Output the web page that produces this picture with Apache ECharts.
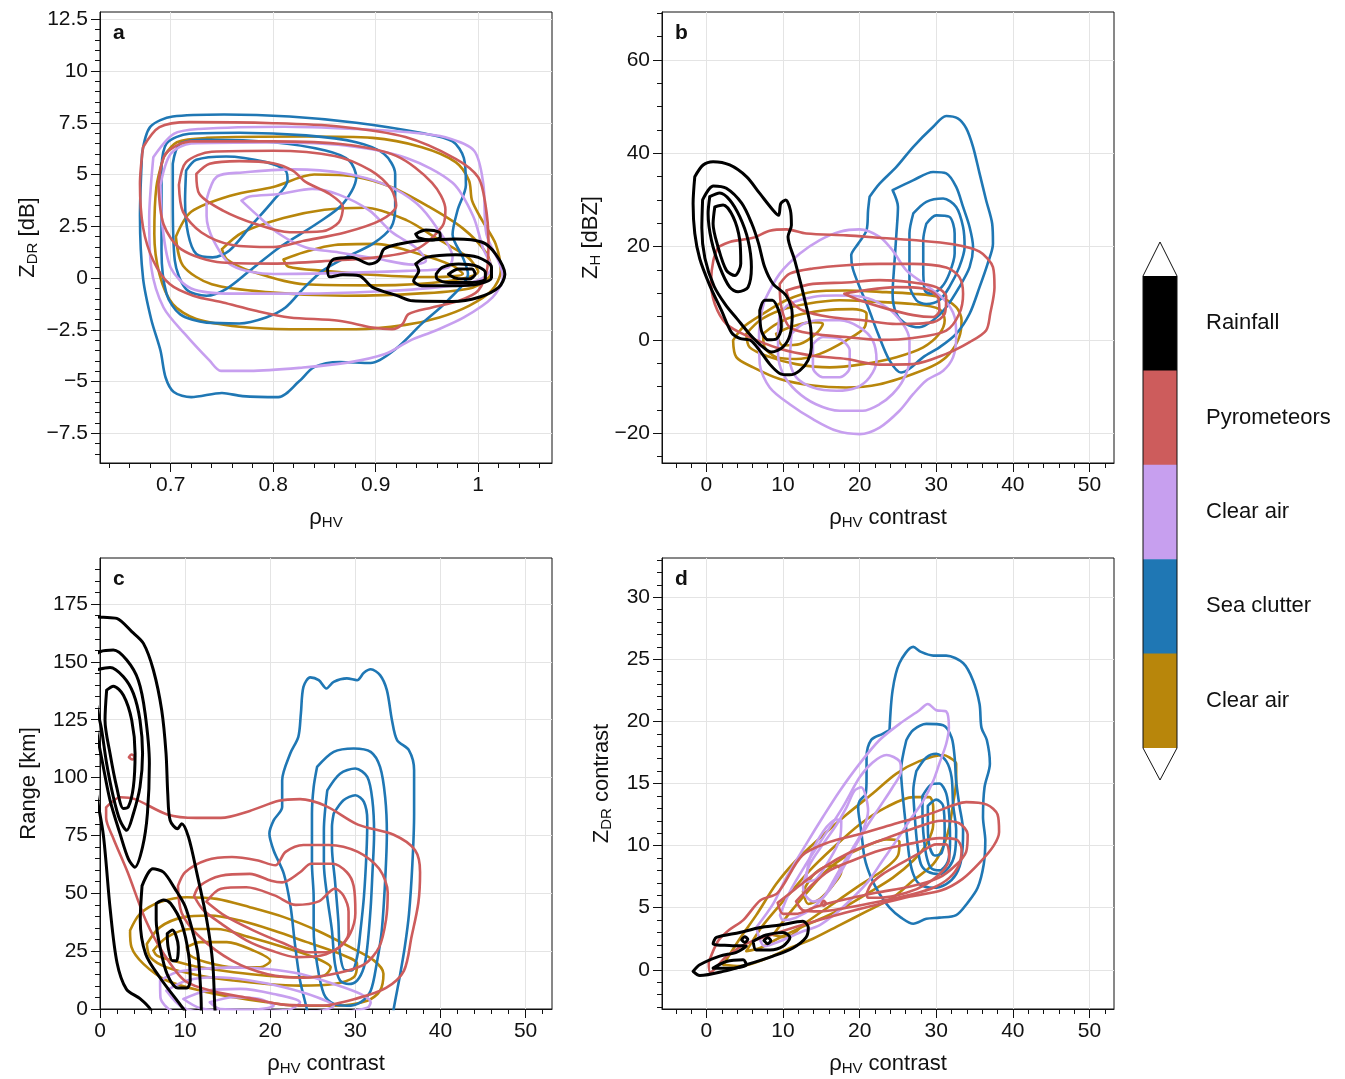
<!DOCTYPE html>
<html>
<head>
<meta charset="utf-8">
<script src="https://cdn.jsdelivr.net/npm/echarts@6.0.0/dist/echarts.min.js"></script>
<style>
  html, body { margin: 0; padding: 0; background: #ffffff; }
  #chart { width: 1345px; height: 1079px; }
</style>
</head>
<body>
<div id="chart"></div>
<script>
// Kernel-density contours of radar variables for five echo classes.
const FONT = "'Liberation Sans', Arial, Helvetica, sans-serif";

// Classes, top to bottom as listed in the colour bar
const CLASS_NAMES = ['Rainfall', 'Pyrometeors', 'Clear air', 'Sea clutter', 'Clear air'];
const CLASS_COLORS = ['#000000', '#cd5c5c', '#c79fef', '#1f77b4', '#b8860b'];

// Axis extents and tick values
const A_X_RANGE = [0.631, 1.072], A_Y_RANGE = [-8.93, 12.85];
const B_X_RANGE = [-5.8, 53.2],   B_Y_RANGE = [-26.4, 70.3];
const C_X_RANGE = [0, 53.1],      C_Y_RANGE = [0, 194.9];
const D_X_RANGE = [-5.8, 53.2],   D_Y_RANGE = [-3.16, 33.16];

const A_X_TICKS = [0.7, 0.8, 0.9, 1.0];
const A_Y_TICKS = [-7.5, -5, -2.5, 0, 2.5, 5, 7.5, 10, 12.5];
const B_X_TICKS = [0, 10, 20, 30, 40, 50];
const B_Y_TICKS = [-20, 0, 20, 40, 60];
const C_X_TICKS = [0, 10, 20, 30, 40, 50];
const C_Y_TICKS = [0, 25, 50, 75, 100, 125, 150, 175];
const D_X_TICKS = [0, 10, 20, 30, 40, 50];
const D_Y_TICKS = [0, 5, 10, 15, 20, 25, 30];

// ---- Panel a: rhoHV vs ZDR ----
const A_RAIN = [
  [[0.853,0.44],[0.859,0.92],[0.877,1.0],[0.894,0.68],[0.903,0.87],[0.908,1.40],[0.923,1.65],[0.945,1.81],[0.978,1.89],[1.004,1.73],[1.017,1.16],[1.026,0.19],[1.020,-0.45],[1.0,-0.94],[0.975,-1.13],[0.936,-1.10],[0.921,-0.85],[0.897,-0.45],[0.884,0.11],[0.868,0.16],[0.855,0.06]],
  [[0.939,2.13],[0.949,2.32],[0.962,2.21],[0.963,1.97],[0.955,1.84],[0.942,1.94]],
  [[0.939,0.68],[0.949,1.0],[0.978,1.13],[1.0,1.0],[1.013,0.52],[1.013,0.03],[1.0,-0.29],[0.978,-0.37],[0.945,-0.37],[0.937,-0.13],[0.942,0.35]],
  [[0.959,0.19],[0.965,0.52],[0.981,0.68],[0.997,0.6],[1.007,0.27],[1.007,-0.05],[0.994,-0.21],[0.971,-0.21],[0.960,-0.05]],
  [[0.971,0.19],[0.981,0.44],[0.994,0.44],[0.997,0.19],[0.991,-0.05],[0.978,0.0]]
];
const A_PYRO = [
  [[0.673,6.32],[0.689,7.29],[0.718,7.53],[0.800,7.48],[0.864,7.32],[0.929,6.81],[0.978,5.76],[1.0,4.87],[1.007,3.58],[1.010,1.81],[1.009,0.52],[1.0,-0.61],[0.981,-1.10],[0.955,-1.42],[0.932,-1.74],[0.926,-2.23],[0.916,-2.47],[0.897,-2.39],[0.864,-2.06],[0.816,-1.90],[0.783,-1.58],[0.751,-1.18],[0.722,-0.85],[0.699,-0.29],[0.683,0.84],[0.673,2.45],[0.670,4.55]],
  [[0.688,4.5],[0.695,6.0],[0.72,6.6],[0.80,6.6],[0.87,6.45],[0.92,5.9],[0.955,4.6],[0.968,3.3],[0.965,2.5],[0.94,1.4],[0.90,1.0],[0.86,0.85],[0.80,0.7],[0.75,0.75],[0.71,1.4],[0.693,2.6]],
  [[0.708,4.5],[0.715,5.6],[0.74,6.1],[0.80,6.15],[0.86,5.9],[0.895,5.2],[0.915,4.3],[0.92,3.5],[0.905,2.8],[0.87,2.2],[0.83,1.8],[0.80,1.5],[0.76,1.6],[0.73,2.2],[0.712,3.2]],
  [[0.725,5.03],[0.738,5.52],[0.767,5.65],[0.800,5.55],[0.819,5.19],[0.832,4.63],[0.855,4.06],[0.868,3.42],[0.864,2.69],[0.848,2.26],[0.816,2.21],[0.783,2.61],[0.751,3.26],[0.728,4.06]]
];
const A_CLEAR_P = [
  [[0.683,5.83],[0.703,6.96],[0.728,7.2],[0.811,7.31],[0.881,7.2],[0.933,7.04],[0.968,6.8],[0.996,6.15],[1.005,4.54],[1.008,2.13],[1.021,0.68],[1.024,0.03],[1.014,-0.93],[0.986,-1.9],[0.958,-2.54],[0.933,-3.03],[0.909,-3.67],[0.874,-4.07],[0.829,-4.32],[0.777,-4.48],[0.749,-4.48],[0.738,-3.99],[0.714,-2.71],[0.693,-1.42],[0.681,0.52],[0.679,2.93],[0.681,4.7]],
  [[0.690,4.5],[0.700,6.0],[0.72,6.5],[0.80,6.55],[0.87,6.4],[0.93,5.8],[0.975,4.6],[0.995,3.0],[1.005,1.4],[1.013,0.5],[1.0,-0.1],[0.96,-0.45],[0.90,-0.65],[0.83,-0.75],[0.76,-0.75],[0.72,-0.5],[0.70,0.5],[0.692,2.5]],
  [[0.735,3.8],[0.745,4.9],[0.77,5.1],[0.82,5.25],[0.87,5.05],[0.91,4.5],[0.94,3.6],[0.96,2.4],[0.975,1.0],[0.97,0.5],[0.93,0.35],[0.87,0.25],[0.80,0.2],[0.76,0.6],[0.742,1.8],[0.735,3.0]],
  [[0.769,3.74],[0.777,3.94],[0.806,4.06],[0.838,4.31],[0.864,4.03],[0.894,3.26],[0.916,2.21],[0.939,1.48],[0.949,0.84],[0.936,0.65],[0.903,0.92],[0.864,1.24],[0.832,1.48],[0.806,2.13],[0.783,3.1]]
];
const A_SEA = [
  [[0.672,6.0],[0.680,7.3],[0.702,7.8],[0.752,7.9],[0.816,7.8],[0.881,7.5],[0.945,7.0],[0.975,6.6],[0.986,5.8],[0.988,4.5],[0.980,3.3],[0.975,2.1],[0.985,1.0],[0.990,0.2],[0.970,-1.1],[0.945,-2.2],[0.920,-3.4],[0.895,-4.1],[0.865,-4.05],[0.840,-4.3],[0.825,-5.0],[0.805,-5.75],[0.77,-5.7],[0.75,-5.55],[0.72,-5.75],[0.703,-5.5],[0.695,-4.8],[0.690,-3.5],[0.681,-2.0],[0.673,0.0],[0.670,3.0]],
  [[0.691,5.35],[0.696,6.5],[0.718,6.97],[0.767,7.02],[0.832,6.89],[0.881,6.56],[0.908,6.0],[0.919,5.03],[0.919,3.42],[0.915,2.45],[0.897,1.65],[0.871,1.0],[0.848,0.35],[0.829,-0.53],[0.812,-1.42],[0.793,-1.9],[0.767,-2.19],[0.735,-2.15],[0.709,-1.74],[0.696,-0.77],[0.691,1.32]],
  [[0.702,5.52],[0.709,6.48],[0.735,6.68],[0.800,6.56],[0.851,6.16],[0.874,5.68],[0.881,4.87],[0.868,3.58],[0.842,2.61],[0.806,1.48],[0.777,0.35],[0.754,-0.53],[0.735,-0.85],[0.715,-0.53],[0.704,0.84],[0.702,3.74]],
  [[0.715,5.19],[0.725,5.71],[0.754,5.87],[0.793,5.6],[0.812,5.19],[0.814,4.71],[0.800,3.74],[0.777,2.45],[0.757,1.32],[0.741,1.0],[0.725,1.16],[0.717,2.13],[0.714,3.74]]
];
const A_CLEAR_G = [
  [[0.693,5.84],[0.706,6.56],[0.735,6.77],[0.832,6.84],[0.897,6.77],[0.945,6.32],[0.978,5.6],[0.991,4.71],[0.994,3.74],[1.004,2.77],[1.017,1.65],[1.022,0.35],[1.013,-0.61],[0.991,-1.34],[0.962,-1.90],[0.929,-2.26],[0.881,-2.47],[0.816,-2.47],[0.767,-2.35],[0.725,-1.98],[0.702,-1.26],[0.689,0.19],[0.684,2.13],[0.686,4.39]],
  [[0.705,2.0],[0.72,3.2],[0.76,4.0],[0.80,4.4],[0.84,5.0],[0.88,4.9],[0.915,4.4],[0.95,3.5],[0.985,2.4],[1.008,1.2],[1.013,0.3],[0.995,-0.45],[0.94,-0.75],[0.87,-0.85],[0.80,-0.7],[0.74,-0.3],[0.712,0.6]],
  [[0.75,1.4],[0.77,2.2],[0.81,2.9],[0.85,3.3],[0.89,3.4],[0.93,2.8],[0.96,1.9],[0.99,1.0],[1.0,0.3],[0.97,-0.15],[0.90,-0.35],[0.83,-0.3],[0.78,0.3],[0.755,0.9]],
  [[0.81,0.9],[0.83,1.25],[0.86,1.6],[0.90,1.65],[0.94,1.2],[0.975,0.6],[0.985,0.2],[0.95,0.05],[0.90,0.15],[0.85,0.35],[0.815,0.55]]
];

// ---- Panel b: rhoHV contrast vs ZH ----
const B_RAIN = [
  [[-1.52,35.0],[-0.43,37.5],[0.87,38.2],[3.04,37.5],[5.22,35.0],[6.96,31.4],[8.70,27.8],[9.43,26.7],[9.70,29.2],[10.35,30.0],[10.96,27.8],[11.09,24.6],[10.65,22.1],[11.52,17.1],[12.26,12.4],[12.96,7.7],[13.6,2.7],[13.7,-1.6],[13.26,-4.4],[12.17,-6.6],[10.87,-7.5],[9.57,-7.2],[8.26,-5.2],[6.96,-2.3],[5.74,-0.1],[4.35,0.3],[3.26,1.6],[1.96,6.3],[0.43,11.7],[-0.87,17.4],[-1.52,22.8],[-1.74,29.2]],
  [[-0.5,30.0],[0.9,33.0],[2.6,32.5],[4.6,29.3],[5.9,25.0],[6.8,20.7],[7.6,15.6],[8.7,12.0],[10.4,9.5],[11.2,5.5],[10.9,1.0],[10.0,-1.5],[8.5,-2.6],[7.0,-1.0],[5.5,1.5],[4.0,4.5],[2.5,7.5],[1.0,11.5],[-0.2,17.5],[-0.6,24.0]],
  [[0.43,30.7],[1.74,31.5],[3.04,30.0],[4.35,26.4],[5.43,21.4],[5.87,15.6],[5.43,11.3],[4.13,10.3],[3.04,11.3],[1.74,15.6],[0.65,21.4],[0.22,27.1]],
  [[1.09,28.5],[2.17,28.9],[3.48,26.4],[4.35,21.4],[4.48,16.3],[3.70,13.8],[2.61,14.9],[1.52,19.9],[0.87,24.9]],
  [[6.96,6.3],[7.61,8.5],[8.61,8.5],[9.57,5.6],[9.78,2.7],[9.13,0.2],[8.04,0.0],[7.17,2.0]]
];
const B_PYRO = [
  [[1.52,19.9],[3.04,21.0],[6.09,21.9],[8.26,23.4],[10.43,23.7],[13.04,22.8],[18.26,22.4],[22.6,21.9],[26.96,21.4],[32.2,20.5],[35.65,18.9],[37.4,15.6],[37.6,11.3],[37.04,5.6],[36.5,2.0],[34.35,-0.5],[31.3,-3.0],[26.96,-5.2],[22.6,-5.3],[18.26,-4.1],[13.9,-3.4],[9.57,-1.9],[5.22,0.9],[2.61,3.4],[1.09,7.7],[0.6,12.5],[0.9,17.0]],
  [[9.57,12.0],[10.87,14.2],[13.9,15.3],[18.26,16.0],[22.6,16.3],[26.96,16.3],[31.3,15.5],[33.0,13.5],[33.5,9.9],[33.0,5.6],[31.3,2.0],[26.96,0.4],[22.6,0.0],[18.26,0.6],[13.9,1.3],[10.87,2.7],[9.78,7.0]],
  [[10.43,10.6],[13.9,12.0],[18.26,12.3],[22.6,12.8],[26.96,12.3],[30.0,11.3],[31.3,9.2],[31.1,5.6],[29.6,3.8],[24.8,3.4],[20.4,4.2],[16.1,4.9],[12.6,6.3],[10.9,8.5]],
  [[18.0,9.9],[20.4,10.6],[24.8,11.3],[28.3,11.0],[30.2,9.2],[30.4,6.3],[29.6,4.9],[27.0,5.3],[23.5,6.7],[20.0,8.5]]
];
const B_CLEAR_P = [
  [[7.6,8.5],[9.57,14.2],[12.2,18.5],[14.8,21.4],[17.4,23.2],[20.0,23.7],[22.6,22.1],[24.3,19.2],[26.1,14.9],[28.7,11.7],[31.1,8.5],[32.4,4.9],[32.6,0.6],[32.2,-3.7],[30.9,-6.6],[28.7,-8.7],[27.0,-11.6],[25.2,-15.2],[22.6,-18.8],[20.0,-20.2],[17.0,-19.5],[13.9,-17.0],[10.87,-13.8],[8.26,-10.2],[6.96,-5.2],[6.87,1.3],[7.17,5.6]],
  [[9.57,5.6],[10.87,7.7],[13.9,9.2],[16.96,9.5],[20.4,9.2],[23.5,7.0],[25.65,3.4],[26.5,-0.1],[26.5,-4.4],[25.65,-8.7],[24.3,-11.6],[22.6,-13.8],[20.4,-15.2],[17.4,-15.2],[14.3,-13.8],[11.7,-10.9],[10.0,-7.3],[9.35,-3.0],[9.35,1.3]],
  [[11.1,1.3],[12.6,3.4],[14.8,4.2],[17.4,4.2],[20.0,2.7],[21.7,-0.1],[22.2,-4.4],[21.3,-8.0],[19.6,-10.2],[17.0,-10.9],[13.9,-10.2],[11.7,-8.0],[10.9,-4.4]],
  [[13.9,-0.9],[15.2,0.6],[17.4,0.2],[18.7,-2.3],[18.7,-5.9],[17.4,-8.0],[15.2,-8.0],[13.9,-5.9]]
];
const B_SEA = [
  [[21.3,30.7],[22.6,33.5],[24.8,37.1],[27.0,41.4],[29.6,45.7],[31.3,48.0],[32.8,47.5],[33.9,45.4],[34.8,41.4],[35.65,35.7],[36.5,30.0],[37.3,24.9],[37.4,20.6],[36.7,16.3],[35.65,11.3],[34.35,5.6],[32.6,1.3],[30.4,-1.6],[28.3,-3.7],[26.5,-6.2],[25.4,-7.0],[23.9,-4.4],[22.4,1.3],[21.1,7.0],[20.0,11.3],[19.1,15.3],[18.9,18.1],[19.8,20.6],[20.9,23.5],[21.1,27.8]],
  [[24.3,32.1],[26.96,34.2],[29.6,36.0],[31.3,35.7],[32.6,32.8],[33.5,28.5],[34.35,24.2],[34.8,19.9],[34.35,15.6],[33.0,11.3],[31.3,7.0],[29.6,4.2],[27.8,2.7],[26.1,3.4],[24.8,5.6],[24.3,9.9],[24.5,15.6],[24.8,22.8],[25.0,28.5]],
  [[27.0,27.1],[28.7,29.6],[30.9,30.3],[32.6,28.5],[33.5,24.2],[33.7,19.9],[33.0,15.6],[31.7,11.3],[30.4,8.5],[28.7,7.7],[27.4,8.5],[26.5,12.0],[26.5,17.8],[26.5,22.8]],
  [[28.7,24.9],[30.0,26.7],[31.7,26.4],[32.4,22.8],[32.4,18.5],[31.7,14.2],[30.7,11.3],[29.3,9.9],[28.5,10.6],[28.3,15.6],[28.3,21.4]]
];
const B_CLEAR_G = [
  [[3.48,-0.1],[4.78,2.7],[7.4,5.6],[10.4,8.5],[13.9,10.3],[18.26,10.6],[22.6,10.3],[26.96,9.9],[30.4,9.2],[32.6,7.0],[33.3,4.2],[33.0,0.6],[31.7,-3.0],[30.0,-5.2],[26.96,-7.3],[22.6,-9.5],[18.26,-10.2],[13.9,-9.8],[9.57,-8.4],[6.1,-5.9],[3.9,-3.7]],
  [[5.2,1.3],[7.0,4.2],[9.57,6.3],[13.0,7.7],[17.4,8.5],[21.7,8.2],[26.96,7.7],[30.4,6.6],[31.1,4.2],[30.4,1.3],[28.3,-1.6],[24.8,-3.7],[20.4,-5.2],[16.1,-5.9],[11.7,-5.2],[8.3,-3.7],[5.65,-1.6]],
  [[7.4,1.3],[9.1,3.4],[11.7,5.2],[15.2,6.3],[19.1,6.6],[20.9,5.6],[20.65,2.7],[18.26,-0.1],[14.8,-3.0],[11.7,-4.1],[9.1,-3.7],[7.6,-1.6]],
  [[9.1,1.3],[10.87,2.7],[13.9,3.8],[15.2,3.4],[14.3,1.3],[12.2,-0.9],[10.0,-1.2]]
];

// ---- Panel c: rhoHV contrast vs range ----
const C_RAIN = [
  [[-1.0,169.6],[0.39,169.3],[1.96,168.8],[3.73,163.1],[5.1,158.0],[6.27,146.5],[7.25,129.1],[7.76,110.4],[7.96,93.1],[8.24,81.5],[9.1,77.9],[9.6,80.1],[10.4,74.3],[11.4,58.4],[12.55,38.2],[13.25,19.5],[13.5,0],[13.7,-6],[10.0,-12],[6.5,-6],[5.9,0],[4.7,4.5],[3.1,8.6],[2.0,20.0],[1.2,43.0],[0.4,75.0],[-0.5,95],[-1.5,130]],
  [[-0.8,152.2],[0.0,154.4],[1.57,155.1],[3.14,150.8],[4.5,142.1],[5.3,127.7],[5.8,106.1],[5.57,84.4],[5.0,70.0],[4.1,61.3],[3.33,64.9],[2.35,75.8],[1.18,90.2],[0.39,104.6],[-0.4,120.5],[-1.0,140]],
  [[-0.5,146.5],[1.18,147.6],[2.75,143.6],[3.92,136.4],[4.7,124.8],[5.0,110.4],[4.7,96.0],[3.92,84.4],[3.14,77.2],[2.35,81.5],[1.57,91.6],[0.78,106.1],[0.2,120.5],[-0.5,135]],
  [[0.78,137.8],[1.57,139.5],[2.75,135.6],[3.73,124.8],[4.12,110.4],[3.92,96.0],[3.33,87.3],[2.75,86.6],[1.96,95.9],[1.18,110.4],[0.59,124.8]],
  [[4.94,53.2],[6.2,60.6],[7.47,59.1],[8.8,52.0],[10.0,44.4],[11.0,32.0],[11.5,23.8],[11.8,10.0],[11.9,0.0],[11.5,-4],[10.3,-2],[9.16,3.2],[7.05,13.5],[5.36,23.8],[4.73,38.5]],
  [[6.6,45.6],[7.47,47.1],[8.3,45.6],[9.6,36.8],[10.4,23.8],[10.6,12.1],[10.2,9.1],[9.16,9.1],[7.9,15.0],[7.05,26.8],[6.6,38.5]],
  [[7.9,32.6],[8.5,34.1],[9.2,26.8],[9.0,20.9],[8.5,20.9],[8.0,26.8]]
];
const C_PYRO = [
  [[0.72,87.1],[2.4,91.5],[4.1,90.7],[7.9,84.1],[11.3,82.6],[14.2,82.6],[17.6,85.6],[21.0,90.0],[23.5,90.7],[26.5,87.8],[30.3,79.7],[34.5,75.3],[37.0,68.7],[37.6,59.1],[37.4,45.9],[36.6,31.2],[35.7,16.5],[33.6,9.1],[30.3,4.7],[26.0,1.5],[21.8,1.8],[17.6,4.7],[13.4,7.6],[10.0,12.1],[7.5,23.8],[5.36,38.5],[3.25,59.1],[1.56,73.8],[0.72,82.6]],
  [[9.16,53.2],[10.0,59.1],[12.5,64.3],[15.5,65.7],[18.4,64.3],[20.6,62.1],[21.8,67.9],[23.9,70.9],[26.9,70.9],[30.3,67.9],[32.8,60.6],[33.8,50.3],[33.6,38.5],[32.8,26.8],[31.1,19.4],[28.1,15.7],[23.9,13.5],[19.7,15.0],[15.5,20.9],[11.7,31.2],[9.6,41.5]],
  [[11.05,48.8],[11.7,53.2],[14.2,57.6],[17.6,58.4],[20.1,55.4],[21.4,54.7],[23.5,59.1],[24.8,62.8],[27.3,62.8],[29.0,59.1],[29.8,53.2],[30.0,41.5],[29.4,32.6],[28.1,26.8],[26.0,23.1],[23.1,22.4],[20.1,25.3],[17.2,29.7],[14.2,37.0],[12.1,42.9]],
  [[12.5,46.4],[14.2,52.0],[17.2,52.6],[20.5,49.1],[23.0,45.0],[25.7,46.5],[27.6,52.0],[28.6,49.0],[29.2,42.0],[29.2,33.0],[28.4,27.5],[26.8,24.5],[24.5,24.5],[21.5,28.5],[18.0,34.0],[14.8,40.0]],
  [[3.4,108.8],[3.7,110.0],[4.1,109.0],[3.8,107.8]]
];
const C_CLEAR_P = [
  [[7.06,12.3],[9.0,15.9],[11.8,17.3],[15.7,18.0],[19.6,17.3],[23.5,15.2],[27.45,10.8],[30.6,6.5],[31.8,2.9],[31.4,0.5],[27.45,-2],[20.0,-4],[12.0,-4],[8.5,-1],[7.1,5.0]],
  [[7.8,7.9],[10.2,12.3],[13.7,13.7],[17.6,12.3],[21.6,9.4],[25.5,5.1],[27.45,1.4],[25.5,-1],[19.6,-1.5],[13.7,-1.5],[9.8,0.5]],
  [[9.8,4.3],[12.5,7.9],[16.5,8.7],[20.4,6.5],[23.5,2.9],[22.0,-0.5],[15.7,-1.0],[11.8,0.3]],
  [[12.9,2.9],[15.7,5.1],[18.8,4.3],[20.4,1.4],[17.6,-0.3],[14.1,0.0]]
];
const C_SEA = [
  [[24.6,-6],[24.3,0],[23.5,12.3],[22.9,28.1],[22.4,44.0],[21.6,58.4],[20.4,68.5],[19.9,75.8],[20.4,81.5],[21.4,87.3],[21.4,98.8],[22.35,110.4],[23.3,117.6],[23.6,127.7],[23.9,139.2],[24.7,143.3],[25.7,142.1],[26.6,138.5],[27.45,141.4],[29.0,142.9],[30.2,142.1],[31.0,145.3],[31.8,146.8],[32.9,144.3],[33.7,137.8],[34.3,124.8],[34.9,116.2],[36.3,111.8],[36.9,103.2],[36.9,84.4],[36.7,62.8],[36.3,41.1],[35.8,26.7],[35.2,13.7],[34.5,0],[34.3,-6],[29.5,-12]],
  [[25.5,104.6],[27.45,111.1],[29.8,112.6],[31.8,111.1],[32.9,104.6],[33.5,91.6],[33.7,75.8],[33.5,55.6],[33.1,33.9],[32.5,19.5],[31.8,7.9],[30.6,2.9],[29.0,1.4],[27.45,2.2],[26.3,6.5],[25.5,19.5],[25.1,33.9],[25.1,48.3],[24.9,62.8],[24.9,84.4],[25.1,95.9]],
  [[26.7,94.5],[28.2,101.7],[30.0,103.9],[31.4,100.3],[32.0,90.2],[32.2,75.8],[32.0,58.4],[31.8,44.0],[31.4,26.7],[31.0,18.0],[30.2,12.3],[29.2,10.8],[28.2,12.3],[27.6,19.5],[27.25,33.9],[26.7,48.3],[26.3,62.8],[26.3,77.2]],
  [[27.45,84.4],[28.6,90.2],[30.0,92.4],[31.0,89.5],[31.4,81.5],[31.3,67.1],[31.0,48.3],[30.6,33.9],[30.2,22.4],[29.6,16.7],[28.8,16.7],[28.2,23.8],[28.0,38.2],[27.6,55.6],[27.25,70.0],[27.25,78.7]]
];
const C_CLEAR_G = [
  [[3.53,33.9],[4.7,41.1],[7.06,46.2],[10.2,48.3],[13.7,47.6],[17.6,44.0],[21.6,39.7],[25.5,33.9],[29.4,26.7],[32.2,20.9],[33.3,15.2],[32.9,7.9],[31.4,3.6],[27.45,1.4],[23.5,1.4],[19.6,2.9],[15.7,5.1],[11.8,7.9],[7.84,12.3],[5.1,19.5],[3.7,26.7]],
  [[5.5,28.1],[7.06,35.4],[9.8,39.7],[12.9,40.4],[16.5,38.2],[20.4,33.9],[24.3,28.9],[28.2,23.8],[30.2,19.5],[29.8,13.7],[27.45,10.8],[23.5,10.1],[19.6,10.8],[15.7,12.3],[11.8,14.4],[7.84,18.0],[5.9,22.4]],
  [[6.27,25.3],[7.84,31.0],[10.6,34.6],[13.7,34.6],[17.6,31.0],[21.6,26.7],[25.1,22.4],[27.1,18.0],[26.3,14.4],[23.5,13.7],[19.6,14.4],[15.7,15.9],[11.8,18.0],[8.6,20.9],[6.7,23.1]],
  [[10.2,26.7],[11.8,28.9],[14.9,28.9],[18.0,25.3],[20.0,20.9],[18.8,18.0],[15.7,18.0],[12.5,20.2],[10.6,23.1]]
];

// ---- Panel d: rhoHV contrast vs ZDR contrast ----
const D_RAIN = [
  [[-1.74,-0.13],[-0.87,0.4],[1.74,1.1],[3.9,1.4],[5.2,1.9],[3.0,1.95],[0.87,2.1],[1.3,2.6],[4.35,3.0],[7.0,3.4],[9.6,3.6],[12.6,3.9],[13.3,3.4],[13.0,2.6],[11.3,1.75],[8.7,1.1],[5.2,0.4],[2.2,-0.13],[-0.87,-0.46]],
  [[6.1,2.3],[7.8,2.8],[10.0,3.0],[10.9,2.6],[10.0,1.9],[8.3,1.6],[6.5,1.6]],
  [[0.87,0.13],[2.6,0.67],[4.8,0.8],[5.2,0.4],[3.5,0.13]],
  [[7.5,2.35],[8.0,2.6],[8.4,2.35],[8.0,2.1]],
  [[4.6,2.4],[5.0,2.65],[5.4,2.45],[5.0,2.2]]
];
const D_PYRO = [
  [[0.3,0.6],[1.5,2.3],[2.95,3.2],[4.8,4.0],[7.05,5.6],[9.3,6.2],[12.5,9.2],[16.1,10.3],[19.8,10.9],[24.3,11.7],[28.9,12.5],[32.5,13.3],[33.9,13.5],[36.6,13.3],[38.0,12.5],[38.2,11.1],[37.5,10.0],[35.7,8.65],[33.4,7.3],[30.7,6.4],[26.6,5.9],[22.0,5.2],[17.5,4.5],[13.0,3.7],[8.9,2.9],[5.2,2.1],[2.5,1.0],[0.5,-0.2]],
  [[9.3,5.4],[11.6,6.5],[15.2,8.2],[18.9,9.5],[23.5,10.6],[27.1,11.4],[30.7,12.0],[33.0,11.8],[34.1,10.9],[33.9,9.5],[32.5,8.4],[30.3,7.4],[26.6,6.7],[22.1,6.2],[17.6,5.6],[14.4,5.1],[11.6,4.5],[10.0,4.5]],
  [[11.7,5.5],[13.9,6.9],[16.1,8.0],[19.1,8.8],[22.6,9.6],[27.0,10.2],[30.4,10.6],[32.6,10.5],[33.3,9.7],[33.0,8.5],[31.7,7.4],[29.6,6.6],[27.0,6.1],[22.6,5.5],[18.3,5.0],[14.8,4.7],[12.6,4.8]],
  [[20.9,6.1],[21.5,6.9],[23.0,7.7],[25.2,8.5],[27.8,9.4],[30.0,10.1],[31.3,10.1],[31.7,9.0],[30.9,8.0],[28.7,6.9],[26.1,6.2],[22.6,5.8],[21.1,5.8]],
  [[15.0,5.3],[15.3,5.55],[15.6,5.35],[15.3,5.15]]
];
const D_CLEAR_P = [
  [[6.5,3.4],[8.7,5.3],[10.4,7.4],[13.0,10.1],[15.2,12.3],[17.4,14.4],[20.0,16.6],[22.6,18.5],[25.2,19.8],[27.8,20.9],[28.9,21.4],[30.0,20.9],[31.3,20.8],[31.65,19.5],[31.3,18.2],[30.4,16.6],[29.6,15.2],[28.3,13.6],[26.5,12.0],[24.8,10.4],[23.0,8.8],[21.1,7.1],[19.1,5.8],[17.0,4.6],[14.8,3.6],[12.2,3.0],[9.6,2.3],[7.6,1.9]],
  [[9.6,4.4],[10.9,6.3],[13.0,8.5],[15.2,10.6],[17.8,13.1],[20.0,15.5],[21.7,16.7],[23.5,17.3],[25.2,16.8],[25.4,16.0],[24.3,14.7],[22.6,13.1],[20.9,11.5],[19.1,9.6],[17.4,7.7],[15.65,6.1],[13.9,5.0],[11.7,4.2],[10.0,4.0]],
  [[12.6,6.9],[13.5,8.5],[15.2,10.1],[17.0,11.7],[18.3,13.1],[19.3,14.4],[20.2,14.7],[21.1,12.8],[20.4,11.2],[19.1,9.8],[17.8,8.5],[16.5,7.1],[15.2,5.8],[13.9,5.5],[12.8,6.1]],
  [[13.0,7.1],[13.5,9.0],[15.2,11.1],[17.0,12.1],[17.6,12.0],[17.4,10.5],[16.1,8.9],[14.3,7.3]]
];
const D_SEA = [
  [[23.9,19.3],[24.3,22.5],[25.2,24.7],[27.0,26.0],[28.0,25.6],[29.6,25.3],[31.3,25.3],[33.5,24.7],[34.8,23.3],[35.65,21.4],[35.9,19.5],[36.6,18.5],[37.0,16.6],[36.3,14.7],[36.1,12.3],[36.4,10.4],[36.2,8.5],[35.4,6.6],[34.1,5.4],[32.6,4.4],[30.4,4.2],[28.7,4.1],[27.0,3.7],[25.4,4.2],[23.9,5.0],[22.6,6.1],[21.5,7.4],[20.65,9.0],[20.2,11.2],[19.8,13.1],[20.0,13.6],[20.8,14.2],[20.9,15.5],[20.9,17.1],[21.5,18.5],[23.0,19.0]],
  [[26.1,18.5],[27.0,19.3],[28.7,19.8],[30.9,19.7],[32.0,18.7],[32.4,17.1],[32.6,15.2],[33.0,13.3],[33.5,11.2],[33.3,9.0],[32.6,7.7],[31.3,6.9],[29.6,6.6],[27.8,6.9],[27.0,7.7],[26.5,9.0],[26.1,11.2],[25.65,13.9],[25.4,16.0]],
  [[27.4,16.0],[28.7,17.1],[30.0,17.4],[31.3,16.8],[32.0,15.5],[32.2,13.3],[32.6,11.2],[32.4,9.3],[31.7,8.3],[30.4,7.7],[28.9,7.9],[28.0,8.5],[27.5,10.2],[27.2,12.3],[27.0,14.4]],
  [[28.2,14.0],[29.3,14.9],[30.4,15.0],[31.3,14.2],[31.7,12.4],[31.8,10.3],[31.5,8.7],[30.4,8.0],[29.3,8.2],[28.7,9.2],[28.3,11.1],[28.2,12.7]],
  [[28.9,13.2],[30.0,13.7],[30.9,13.2],[31.1,11.1],[30.7,9.4],[29.8,9.2],[29.1,10.0],[28.9,11.6]]
];
const D_CLEAR_G = [
  [[2.2,0.4],[4.35,2.5],[6.5,4.4],[9.1,6.9],[11.7,8.8],[14.8,10.6],[18.3,12.5],[21.7,14.2],[24.8,15.8],[27.8,16.8],[30.9,17.3],[31.7,17.1],[32.6,16.6],[32.6,15.2],[32.2,13.4],[31.7,11.5],[30.9,9.9],[29.6,8.5],[27.0,7.2],[24.3,5.8],[20.9,4.7],[17.4,3.6],[13.9,2.5],[10.9,1.75],[7.8,0.9],[4.35,0.3]],
  [[5.2,1.5],[7.4,3.6],[10.4,5.8],[13.5,8.0],[16.5,9.8],[20.0,11.7],[23.5,13.1],[27.0,13.9],[29.1,13.9],[29.6,13.1],[29.6,11.7],[28.7,10.1],[27.0,8.8],[24.3,7.4],[20.9,6.1],[17.0,4.7],[13.0,3.6],[9.6,2.6],[7.0,1.75]],
  [[8.7,2.8],[10.9,4.6],[13.5,6.5],[15.7,8.0],[18.3,9.2],[21.0,10.0],[23.5,10.5],[25.2,10.3],[25.0,9.2],[23.0,8.0],[20.0,6.8],[16.5,5.3],[13.0,3.8],[10.4,2.6]],
  [[12.6,6.3],[13.9,7.6],[15.5,8.3],[17.0,8.4],[17.6,7.9],[16.5,6.8],[14.8,5.7],[13.3,5.3]]
];

// Contour sets per panel, in class order (same as CLASS_NAMES)
const PANEL_SETS = [
  [A_RAIN, A_PYRO, A_CLEAR_P, A_SEA, A_CLEAR_G],
  [B_RAIN, B_PYRO, B_CLEAR_P, B_SEA, B_CLEAR_G],
  [C_RAIN, C_PYRO, C_CLEAR_P, C_SEA, C_CLEAR_G],
  [D_RAIN, D_PYRO, D_CLEAR_P, D_SEA, D_CLEAR_G]
];
const PANEL_LETTERS = ['a', 'b', 'c', 'd'];

// ---------------- layout ----------------
const GRID_BOXES = [
  { left: 100, top: 12,  width: 452, height: 451 },
  { left: 662, top: 12,  width: 452, height: 451 },
  { left: 100, top: 558, width: 452, height: 451 },
  { left: 662, top: 558, width: 452, height: 451 }
];

const NAME_RICH = {
  s: { fontSize: 15, lineHeight: 15, verticalAlign: 'bottom', fontFamily: FONT, color: '#111' }
};

function fmtTick(v) {
  return String(+(+v).toFixed(4)).replace('-', '\u2212');
}

function valueAxis(o) {
  const ticks = o.ticks;
  const isTick = v => ticks.some(t => Math.abs(t - v) < o.step * 1e-3);
  return {
    type: 'value',
    gridIndex: o.grid,
    min: o.range[0],
    max: o.range[1],
    minInterval: o.step,
    maxInterval: o.step,
    splitNumber: 5,
    name: o.name,
    nameLocation: 'middle',
    nameGap: o.nameGap,
    nameRotate: o.isY ? 90 : 0,
    nameTextStyle: {
      fontSize: 22, color: '#111', fontFamily: FONT, lineHeight: 25, rich: NAME_RICH
    },
    axisLine: { show: true, onZero: false, lineStyle: { color: '#111', width: 1 } },
    axisTick: { show: true, inside: false, length: 9, customValues: ticks,
                lineStyle: { color: '#111', width: 1 } },
    minorTick: { show: true, splitNumber: o.minor, length: 5,
                 lineStyle: { color: '#111', width: 1 } },
    axisLabel: {
      show: true, customValues: ticks, margin: o.isY ? 12 : 12,
      fontSize: 21, color: '#111', fontFamily: FONT,
      formatter: v => (isTick(v) ? fmtTick(v) : '')
    },
    splitLine: { show: true, lineStyle: { color: '#e4e4e4', width: 1 } },
    minorSplitLine: { show: false }
  };
}

const xAxes = [
  valueAxis({ grid: 0, range: A_X_RANGE, step: 0.1, minor: 5, ticks: A_X_TICKS, name: '\u03c1{s|HV}', nameGap: 42 }),
  valueAxis({ grid: 1, range: B_X_RANGE, step: 10, minor: 5, ticks: B_X_TICKS, name: '\u03c1{s|HV} contrast', nameGap: 42 }),
  valueAxis({ grid: 2, range: C_X_RANGE, step: 10, minor: 5, ticks: C_X_TICKS, name: '\u03c1{s|HV} contrast', nameGap: 42 }),
  valueAxis({ grid: 3, range: D_X_RANGE, step: 10, minor: 5, ticks: D_X_TICKS, name: '\u03c1{s|HV} contrast', nameGap: 42 })
];
const yAxes = [
  valueAxis({ grid: 0, range: A_Y_RANGE, step: 2.5, minor: 5, ticks: A_Y_TICKS, name: 'Z{s|DR} [dB]', nameGap: 60, isY: true }),
  valueAxis({ grid: 1, range: B_Y_RANGE, step: 20, minor: 4, ticks: B_Y_TICKS, name: 'Z{s|H} [dBZ]', nameGap: 59, isY: true }),
  valueAxis({ grid: 2, range: C_Y_RANGE, step: 25, minor: 5, ticks: C_Y_TICKS, name: 'Range [km]', nameGap: 59, isY: true }),
  valueAxis({ grid: 3, range: D_Y_RANGE, step: 5, minor: 5, ticks: D_Y_TICKS, name: 'Z{s|DR} contrast', nameGap: 48, isY: true })
];

// Contour lines: gold drawn first, rainfall last (on top)
const DRAW_ORDER = [4, 3, 2, 1, 0];
const series = [];
PANEL_SETS.forEach((sets, p) => {
  DRAW_ORDER.forEach((c, rank) => {
    sets[c].forEach(loop => {
      series.push({
        type: 'line',
        name: CLASS_NAMES[c],
        xAxisIndex: p,
        yAxisIndex: p,
        data: loop.concat([loop[0]]),
        smooth: 0.3,
        symbol: 'none',
        showSymbol: false,
        clip: true,
        silent: true,
        animation: false,
        z: 2 + rank,
        lineStyle: { color: CLASS_COLORS[c], width: c === 0 ? 3 : 2.6, join: 'round', cap: 'round' }
      });
    });
  });
});

// Colour bar with extension triangles, plus class labels
const CB = { x: 1143, w: 34, top: 276, seg: 94.4, tri: 34 };
const cbElems = [];
CLASS_COLORS.forEach((col, i) => {
  cbElems.push({
    type: 'rect', silent: true,
    shape: { x: CB.x, y: CB.top + i * CB.seg, width: CB.w, height: CB.seg + 0.5 },
    style: { fill: col }
  });
  cbElems.push({
    type: 'text', silent: true,
    style: {
      text: CLASS_NAMES[i], x: 1206, y: CB.top + (i + 0.5) * CB.seg,
      fill: '#111', font: '22px ' + FONT,
      align: 'left', verticalAlign: 'middle', textAlign: 'left', textVerticalAlign: 'middle'
    }
  });
});
const cbBottom = CB.top + CLASS_COLORS.length * CB.seg;
const cx = CB.x + CB.w / 2;
cbElems.push({
  type: 'polygon', silent: true,
  shape: { points: [[cx, CB.top - CB.tri], [CB.x + CB.w, CB.top], [CB.x, CB.top]] },
  style: { fill: '#ffffff', stroke: 'none' }
});
cbElems.push({
  type: 'polygon', silent: true,
  shape: { points: [[CB.x, cbBottom], [CB.x + CB.w, cbBottom], [cx, cbBottom + CB.tri - 2]] },
  style: { fill: '#ffffff', stroke: 'none' }
});
cbElems.push({
  type: 'polygon', silent: true,
  shape: { points: [[cx, CB.top - CB.tri], [CB.x + CB.w, CB.top], [CB.x + CB.w, cbBottom],
                    [cx, cbBottom + CB.tri - 2], [CB.x, cbBottom], [CB.x, CB.top]] },
  style: { fill: 'none', stroke: '#111', lineWidth: 1 }
});

const option = {
  backgroundColor: '#ffffff',
  animation: false,
  textStyle: { fontFamily: FONT },
  title: PANEL_LETTERS.map((t, i) => ({
    text: t,
    left: GRID_BOXES[i].left + 13,
    top: GRID_BOXES[i].top + 11,
    padding: 0,
    textStyle: { fontSize: 21, fontWeight: 'bold', color: '#111', fontFamily: FONT }
  })),
  grid: GRID_BOXES.map(g => Object.assign({
    show: true, borderColor: '#111', borderWidth: 1, backgroundColor: 'transparent',
    containLabel: false, outerBoundsMode: 'none'
  }, g)),
  xAxis: xAxes,
  yAxis: yAxes,
  series: series,
  graphic: { elements: cbElems }
};

const chart = echarts.init(document.getElementById('chart'), null, { renderer: 'canvas' });
chart.setOption(option);
</script>
</body>
</html>
